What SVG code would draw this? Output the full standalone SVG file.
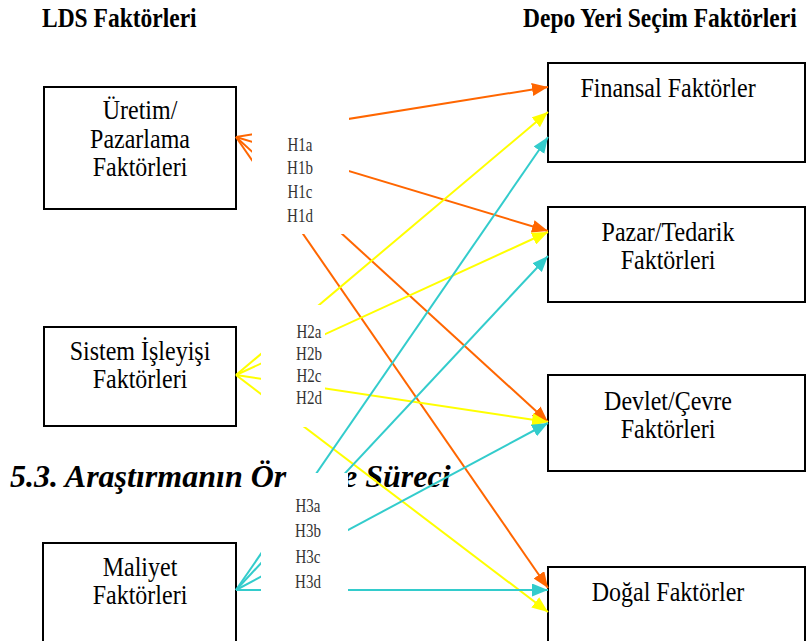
<svg xmlns="http://www.w3.org/2000/svg" width="810" height="641" viewBox="0 0 810 641">
<defs>
<style>
.box{fill:#fff;stroke:#000;stroke-width:2}
.t{font-family:"Liberation Serif","Times New Roman",serif;font-size:24px;fill:#000;text-anchor:middle}
.hd{font-family:"Liberation Serif","Times New Roman",serif;font-size:23.5px;font-weight:bold;fill:#000}
.sec{font-family:"Liberation Serif","Times New Roman",serif;font-size:32px;font-weight:bold;font-style:italic;fill:#000}
.h{font-family:"Liberation Serif","Times New Roman",serif;font-size:15px;fill:#333;text-anchor:middle}
.cov{fill:#fff}
.o{stroke:#FF6600;stroke-width:2;fill:none;marker-end:url(#mo)}
.y{stroke:#FFFF00;stroke-width:2;fill:none;marker-end:url(#my)}
.c{stroke:#33CCCC;stroke-width:2;fill:none;marker-end:url(#mc)}
</style>
<marker id="mo" markerUnits="userSpaceOnUse" markerWidth="16" markerHeight="13" refX="16" refY="6.5" orient="auto"><path d="M0,0 L16,6.5 L0,13 z" fill="#FF6600"/></marker>
<marker id="my" markerUnits="userSpaceOnUse" markerWidth="16" markerHeight="13" refX="16" refY="6.5" orient="auto"><path d="M0,0 L16,6.5 L0,13 z" fill="#FFFF00"/></marker>
<marker id="mc" markerUnits="userSpaceOnUse" markerWidth="16" markerHeight="13" refX="16" refY="6.5" orient="auto"><path d="M0,0 L16,6.5 L0,13 z" fill="#33CCCC"/></marker>
</defs>
<rect width="810" height="641" fill="#fff"/>
<g id="headers">
<text class="hd" transform="translate(42,27) scale(1,1.2)">LDS Faktörleri</text>
<text class="hd" transform="translate(523,27) scale(1,1.2)">Depo Yeri Seçim Faktörleri</text>
</g>
<g id="node-uretim">
<rect class="box" x="44" y="87" width="192" height="122"/>
<text class="t" transform="translate(140,119) scale(1,1.1)">Üretim/</text>
<text class="t" transform="translate(140,147.5) scale(1,1.1)">Pazarlama</text>
<text class="t" transform="translate(140,176) scale(1,1.1)">Faktörleri</text>
</g>
<g id="node-sistem">
<rect class="box" x="44" y="327" width="192" height="99"/>
<text class="t" transform="translate(140,360) scale(1,1.1)">Sistem İşleyişi</text>
<text class="t" transform="translate(140,388) scale(1,1.1)">Faktörleri</text>
</g>
<g id="node-maliyet">
<rect class="box" x="43" y="543" width="193" height="120"/>
<text class="t" transform="translate(140,576) scale(1,1.1)">Maliyet</text>
<text class="t" transform="translate(140,604) scale(1,1.1)">Faktörleri</text>
</g>
<g id="node-finansal">
<rect class="box" x="548" y="63" width="257" height="99"/>
<text class="t" transform="translate(668,97) scale(1,1.1)">Finansal Faktörler</text>
</g>
<g id="node-pazar">
<rect class="box" x="548" y="207" width="257" height="95"/>
<text class="t" transform="translate(668,241) scale(1,1.1)">Pazar/Tedarik</text>
<text class="t" transform="translate(668,269) scale(1,1.1)">Faktörleri</text>
</g>
<g id="node-devlet">
<rect class="box" x="548" y="375" width="257" height="96"/>
<text class="t" transform="translate(668,410) scale(1,1.1)">Devlet/Çevre</text>
<text class="t" transform="translate(668,438) scale(1,1.1)">Faktörleri</text>
</g>
<g id="node-dogal">
<rect class="box" x="548" y="567" width="257" height="100"/>
<text class="t" transform="translate(668,601) scale(1,1.1)">Doğal Faktörler</text>
</g>
<g id="section-title">
<text class="sec" x="10" y="487">5.3. Araştırmanın Ör</text>
<text class="sec" x="343" y="487">e Süreci</text>
</g>
<g id="connectors">
<line class="o" x1="236" y1="137" x2="548" y2="87"/>
<line class="o" x1="236" y1="137" x2="548" y2="231"/>
<line class="o" x1="236" y1="137" x2="548" y2="422"/>
<line class="o" x1="236" y1="137" x2="548" y2="588"/>
<line class="y" x1="236" y1="375" x2="548" y2="112"/>
<line class="y" x1="236" y1="375" x2="548" y2="232"/>
<line class="y" x1="236" y1="375" x2="548" y2="422"/>
<line class="y" x1="236" y1="375" x2="548" y2="612"/>
<line class="c" x1="236" y1="590" x2="548" y2="137"/>
<line class="c" x1="236" y1="590" x2="548" y2="256"/>
<line class="c" x1="236" y1="590" x2="548" y2="423"/>
<line class="c" x1="236" y1="590" x2="548" y2="590"/>
</g>
<g id="label-h1">
<rect class="cov" x="252" y="100" width="97" height="134"/>
<text class="h" transform="translate(300,151) scale(1,1.3)">H1a</text>
<text class="h" transform="translate(300,174) scale(1,1.3)">H1b</text>
<text class="h" transform="translate(300,198) scale(1,1.3)">H1c</text>
<text class="h" transform="translate(300,222) scale(1,1.3)">H1d</text>
</g>
<g id="label-h2">
<rect class="cov" x="261" y="305" width="64" height="122"/>
<text class="h" transform="translate(309,338) scale(1,1.3)">H2a</text>
<text class="h" transform="translate(309,360) scale(1,1.3)">H2b</text>
<text class="h" transform="translate(309,382) scale(1,1.3)">H2c</text>
<text class="h" transform="translate(309,404) scale(1,1.3)">H2d</text>
</g>
<g id="label-h3">
<rect class="cov" x="293" y="473" width="55" height="30"/>
<rect class="cov" x="261" y="490" width="87" height="118"/>
<text class="h" transform="translate(308,512) scale(1,1.3)">H3a</text>
<text class="h" transform="translate(308,537) scale(1,1.3)">H3b</text>
<text class="h" transform="translate(308,563) scale(1,1.3)">H3c</text>
<text class="h" transform="translate(308,588) scale(1,1.3)">H3d</text>
</g>
</svg>
